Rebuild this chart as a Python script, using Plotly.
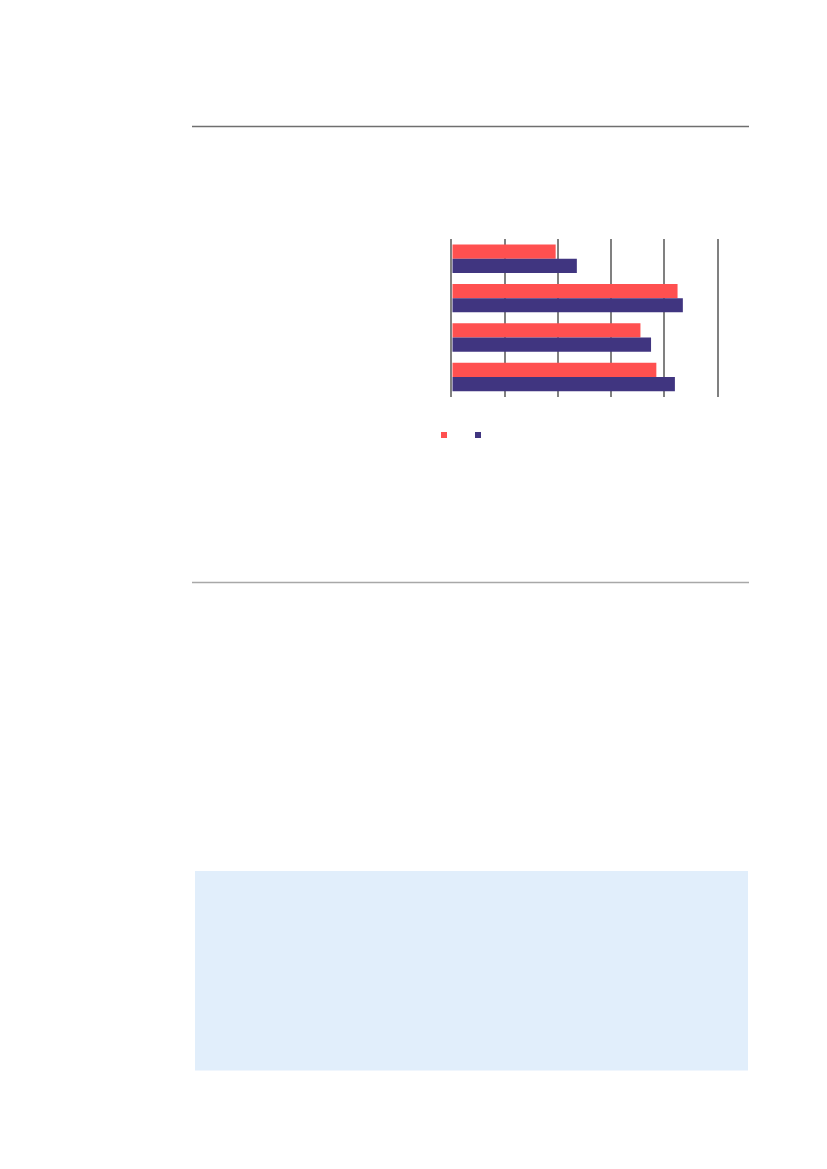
import plotly.graph_objs as go

W, H = 827, 1169
OFF = 8  # page body margin in the browser

categories = ["1", "2", "3", "4"]
red_values = [39, 85, 71, 77]
navy_values = [47, 87, 75, 84]

RED = "#FF5050"
NAVY = "#403580"
GRID = "#808080"


def px(x):
    return (x - OFF) / W


def py(y):
    return 1 - (y - OFF) / H


red_bar = go.Bar(y=categories, x=red_values, orientation="h", marker_color=RED,
                 marker_line_width=0, showlegend=False, hoverinfo="x")
navy_bar = go.Bar(y=categories, x=navy_values, orientation="h", marker_color=NAVY,
                  marker_line_width=0, showlegend=False, hoverinfo="x")

# legend swatches only (no text in the source)
red_key = go.Scatter(x=[None], y=[None], mode="markers", name="", legend="legend",
                     marker=dict(symbol="square", size=6, color=RED))
navy_key = go.Scatter(x=[None], y=[None], mode="markers", name="", legend="legend2",
                      marker=dict(symbol="square", size=6, color=NAVY))

layout = go.Layout(
    width=W, height=H,
    margin=dict(l=0, r=0, t=0, b=0),
    paper_bgcolor="white", plot_bgcolor="white",
    barmode="group", bargap=0.28, bargroupgap=0,
    xaxis=dict(domain=[px(452.3), px(717.3)], range=[0, 100], dtick=20,
               showgrid=True, gridcolor=GRID, gridwidth=1.5,
               zeroline=False, showline=False, showticklabels=False, fixedrange=True),
    yaxis=dict(domain=[py(396.7), py(239)], autorange="reversed",
               showgrid=False, zeroline=False, showline=True, mirror=True,
               linecolor=GRID, linewidth=1.5,
               showticklabels=False, fixedrange=True),
    legend=dict(x=px(444 - 20), y=py(435), xanchor="left", yanchor="middle",
                bgcolor="rgba(0,0,0,0)", font=dict(size=1)),
    legend2=dict(x=px(478 - 20), y=py(435), xanchor="left", yanchor="middle",
                 bgcolor="rgba(0,0,0,0)", font=dict(size=1)),
    shapes=[
        dict(type="line", xref="paper", yref="paper", x0=px(192), x1=px(749),
             y0=py(126.5), y1=py(126.5), line=dict(color="#6f6f6f", width=1.5)),
        dict(type="line", xref="paper", yref="paper", x0=px(192), x1=px(749),
             y0=py(582.5), y1=py(582.5), line=dict(color="#a8a8a8", width=1.5)),
        dict(type="rect", xref="paper", yref="paper", x0=px(195), x1=px(748),
             y0=py(1070.5), y1=py(871), fillcolor="#E1EEFB", line=dict(width=0),
             layer="below"),
    ],
)

fig = go.Figure(data=[red_bar, navy_bar, red_key, navy_key], layout=layout)
fig.write_html("out.html")
